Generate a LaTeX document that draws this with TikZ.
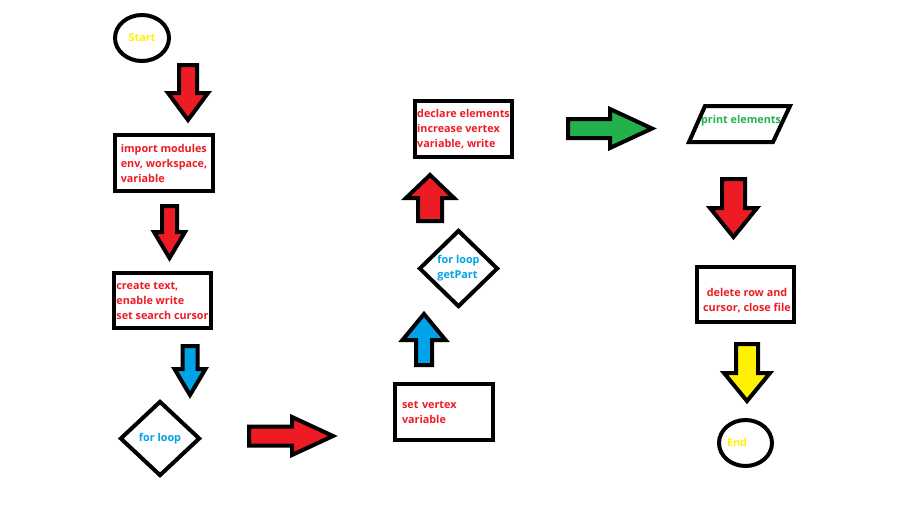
\documentclass[tikz,border=0pt]{standalone}
\usepackage{fontspec}
\setmainfont{Open Sans}
\usetikzlibrary{calc,shapes.geometric}
\definecolor{pred}{HTML}{ED1C24}
\definecolor{pblue}{HTML}{00A2E8}
\definecolor{pgreen}{HTML}{22B14C}
\definecolor{pyellow}{HTML}{FFF200}
% #1 colour, #2 tail, #3 tip, #4 shaft half width, #5 head half width, #6 head length
\newcommand\blockarr[6]{%
  \path ($(#3)!#6!(#2)$) coordinate (bh);
  \draw[blockarrow,fill=#1] ($(#2)!#4!90:(#3)$) -- ($(bh)!#4!90:(#3)$) -- ($(bh)!#5!90:(#3)$) -- (#3)
    -- ($(bh)!#5!-90:(#3)$) -- ($(bh)!#4!-90:(#3)$) -- ($(#2)!#4!-90:(#3)$) -- cycle;}
\tikzset{
  txt/.style={font=\fontsize{10.8}{15}\selectfont\bfseries, inner sep=0pt},
  box/.style={draw=black, line width=4pt, fill=white, rectangle, inner sep=0pt, txt},
  ell/.style={draw=black, line width=4pt, fill=white, ellipse, inner sep=0pt, txt},
  dia/.style={draw=black, line width=4pt, fill=white, diamond, inner sep=0pt, txt},
  blockarrow/.style={draw=black, line width=4pt, line join=miter},
}
\begin{document}
\begin{tikzpicture}[x=1pt,y=-1pt]
\fill[white] (0,0) rectangle (924,506);
\useasboundingbox (0,0) rectangle (924,506);

% nodes
\node[ell, minimum width=54pt, minimum height=46pt, text=pyellow] (start) at (142,38) {Start};
\node[box, minimum width=98pt, minimum height=56pt, text=pred, align=left] (b1) at (164,163) {import modules\\env, workspace,\\variable};
\node[box, minimum width=97pt, minimum height=55pt, text=pred, align=left] (b2) at (162.5,300.5) {create text,\\enable write\\set search cursor};
\node[dia, minimum width=80pt, minimum height=75pt, text=pblue] (d1) at (160,438.5) {for loop};
\node[box, minimum width=98pt, minimum height=56pt, text=pred, text width=84pt, align=left] (b3) at (444,412) {set vertex\\variable};
\node[dia, minimum width=79pt, minimum height=77pt, text=pblue, align=left] (d2) at (458.5,268.5) {for loop\\getPart};
\node[box, minimum width=97pt, minimum height=56pt, text=pred, align=left] (b4) at (463.5,129) {declare elements\\increase vertex\\variable, write};
\draw[line width=4pt, fill=white, line join=miter] (705,106) -- (790,106) -- (773,142) -- (689,142) -- cycle;
\node[txt, text=pgreen] (pe) at (741,121) {print elements};
\node[box, minimum width=97pt, minimum height=55pt] (b5) at (745.5,294.5) {};
\node[txt, text=pred, align=center] (b5t) at (747,300.5) {delete row and\\cursor, close file};
\node[ell, minimum width=53pt, minimum height=46pt] (endn) at (745.5,443) {};
\node[txt, text=pyellow] (endt) at (737,442) {End};

% connector end points
\coordinate (a1s) at (188,65);  \coordinate (a1e) at (188,120);
\coordinate (a2s) at (169.5,206); \coordinate (a2e) at (169.5,258);
\coordinate (a3s) at (190,346); \coordinate (a3e) at (190,395);
\coordinate (a4s) at (249,436); \coordinate (a4e) at (333,436);
\coordinate (a5s) at (424,365); \coordinate (a5e) at (424,314);
\coordinate (a6s) at (430,221); \coordinate (a6e) at (430,175);
\coordinate (a7s) at (568,128.5); \coordinate (a7e) at (652,128.5);
\coordinate (a8s) at (733.5,179); \coordinate (a8e) at (733.5,237);
\coordinate (a9s) at (747,344); \coordinate (a9e) at (747,401);

\blockarr{pred}{a1s}{a1e}{9pt}{20pt}{27pt}
\blockarr{pred}{a2s}{a2e}{7.5pt}{15.5pt}{26pt}
\blockarr{pblue}{a3s}{a3e}{7.5pt}{15.5pt}{26pt}
\blockarr{pred}{a4s}{a4e}{9.5pt}{19pt}{41pt}
\blockarr{pblue}{a5s}{a5e}{8pt}{21.5pt}{26pt}
\blockarr{pred}{a6s}{a6e}{12pt}{24pt}{23pt}
\blockarr{pgreen}{a7s}{a7e}{9.5pt}{19.5pt}{42pt}
\blockarr{pred}{a8s}{a8e}{11.5pt}{23.5pt}{29pt}
\blockarr{pyellow}{a9s}{a9e}{11pt}{23pt}{28pt}
\end{tikzpicture}
\end{document}
